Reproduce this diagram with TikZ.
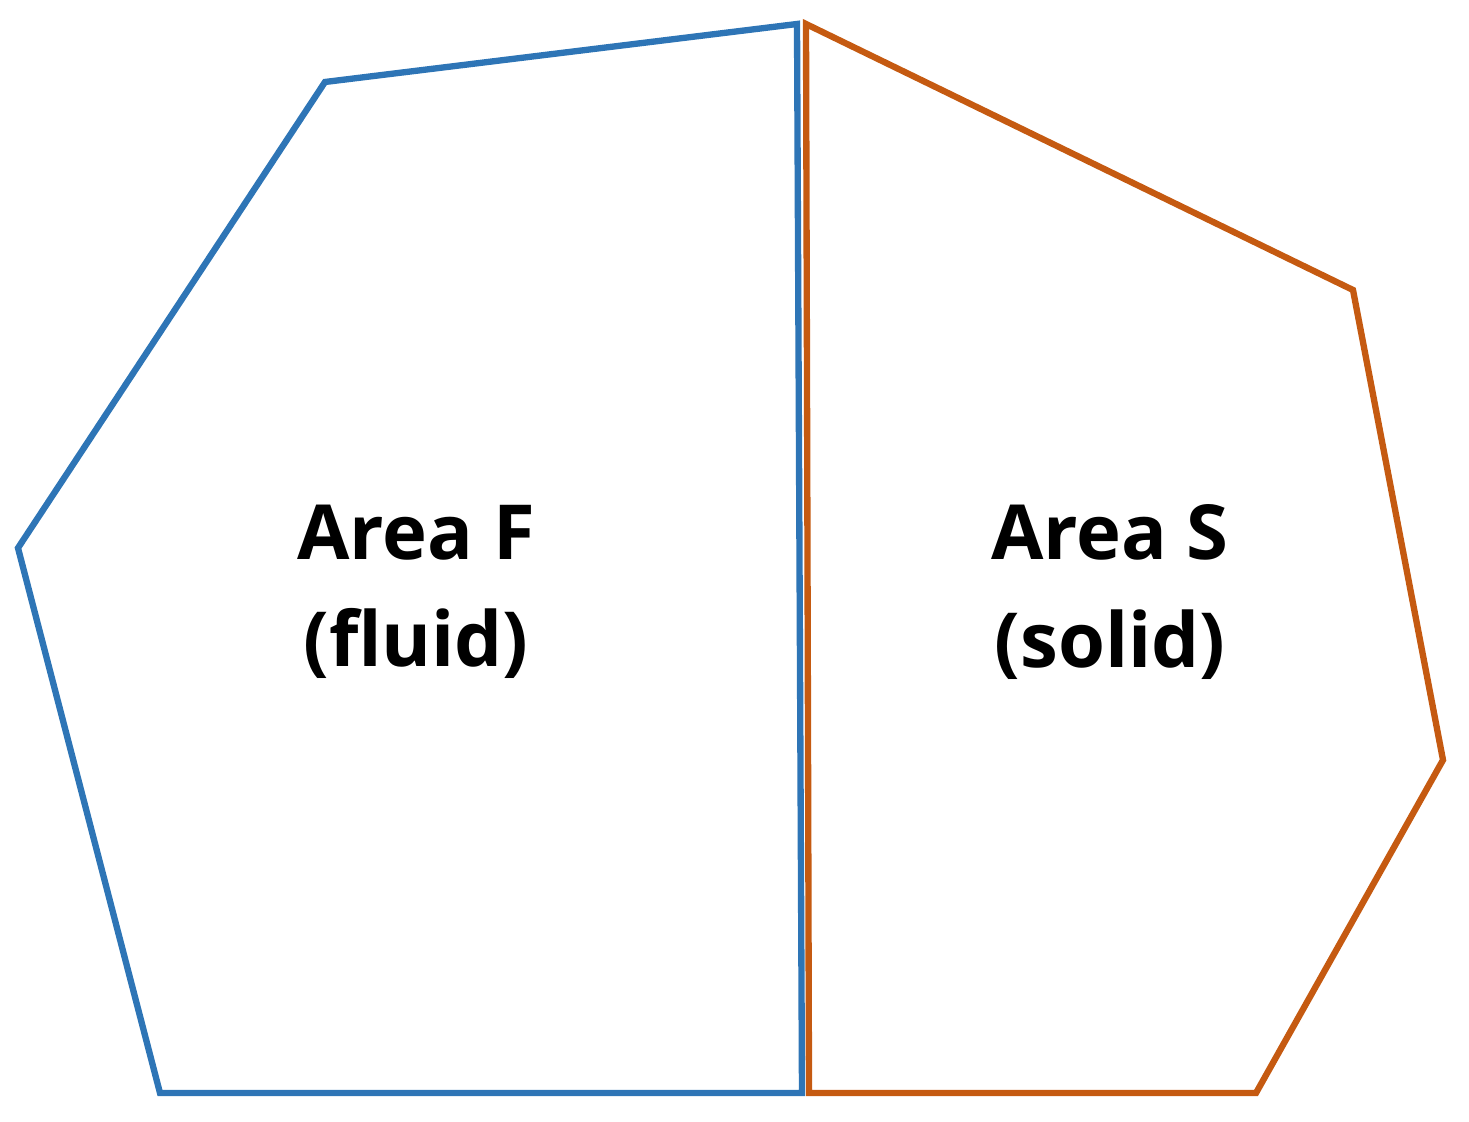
\documentclass[tikz,border=0pt]{standalone}
\usepackage{fontspec}
\setmainfont{Open Sans}
\definecolor{fluidblue}{RGB}{46,117,182}
\definecolor{solidorange}{RGB}{197,90,17}

\begin{document}
\begin{tikzpicture}[x=0.01cm,y=-0.01cm]
                \tikzstyle{border}= [line width=1.8pt, line join=miter]
                \tikzstyle{label}= [align=center, font=\fontsize{21.6}{30.5}\selectfont\bfseries, inner sep=0pt]
                \useasboundingbox (0,0) rectangle (1469,1122);
                % fluid side
                \coordinate (f1) at (797,24);
                \coordinate (f2) at (325,82);
                \coordinate (f3) at (18,548);
                \coordinate (f4) at (160,1093);
                \coordinate (f5) at (802,1093);
                % solid side
                \coordinate (s1) at (806,24);
                \coordinate (s2) at (1353,290);
                \coordinate (s3) at (1443,760);
                \coordinate (s4) at (1256,1093);
                \coordinate (s5) at (809,1093);

                \draw [border,fluidblue] (f1) -- (f2) -- (f3) -- (f4) -- (f5) -- cycle;
                \draw [border,solidorange] (s1) -- (s2) -- (s3) -- (s4) -- (s5) -- cycle;

                \node (F) [label] at (416,592) {Area F\\(fluid)};
                \node (S) [label] at (1110,592) {Area S\\(solid)};
\end{tikzpicture}
\end{document}
